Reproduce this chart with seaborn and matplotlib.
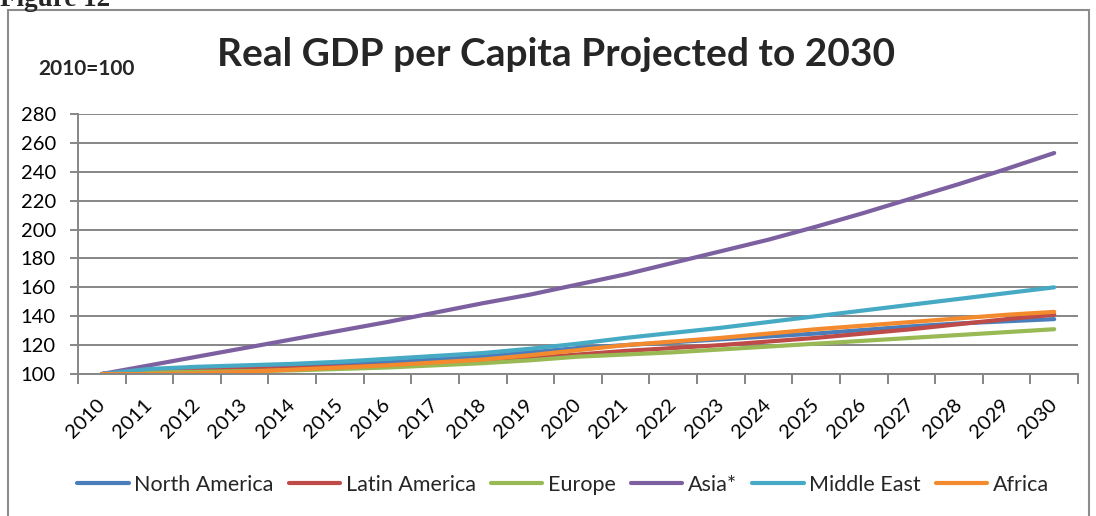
import matplotlib
matplotlib.use("Agg")
import matplotlib.pyplot as plt
from matplotlib.patches import Rectangle
import numpy as np
import pandas as pd
import seaborn as sns

years = [str(y) for y in range(2010, 2031)]
regions = ["North America", "Latin America", "Europe", "Asia*", "Middle East", "Africa"]

north_america = [100, 103, 104, 105, 105.5, 106.5, 108, 110, 112, 115, 118,
                 120, 122, 124, 126, 128, 130.5, 133, 135, 136.5, 138]
latin_america = [100, 102, 103, 103.5, 104, 105, 106, 107.5, 109, 111, 113.5,
                 116, 118, 120, 122.5, 125, 128, 131, 134.5, 138, 141]
europe = [100, 101, 101.5, 102, 102.5, 103.5, 104.5, 106, 107.5, 109.5, 112,
          113.5, 115, 117, 119, 121, 123, 125, 127, 129, 131]
asia = [100, 106, 112, 118, 124, 130, 136, 142.5, 149, 155, 162,
        169, 177, 185, 193, 202, 211.5, 221.5, 231.5, 242, 253]
middle_east = [100, 103.5, 105, 106, 107, 108.5, 110.5, 112.5, 114.5, 117.5, 121,
               125, 128.5, 132, 136, 140, 144, 148, 152, 156, 160]
africa = [100, 100, 100.5, 101.5, 103, 104.5, 106, 108, 110, 113, 116.5,
          120, 122.5, 125, 128, 131, 133.5, 136, 138.5, 141, 143]

series = [north_america, latin_america, europe, asia, middle_east, africa]
colors = ["#4A7EBB", "#BE4B48", "#98B954", "#7D60A0", "#46AAC5", "#F38A2E"]

y_ticks = list(range(100, 281, 20))

df = pd.DataFrame({
    "pos": np.tile(np.arange(len(years)), len(regions)),
    "value": np.concatenate(series),
    "region": np.repeat(regions, len(years)),
})

sns.set_theme(style="white")
plt.rcParams["font.family"] = ["Lato", "DejaVu Sans"]

fig = plt.figure(figsize=(10.96, 5.16), dpi=100)
ax = fig.add_axes([78 / 1096, 1 - 374 / 516, 1000 / 1096, 260 / 516])

sns.lineplot(data=df, x="pos", y="value", hue="region", hue_order=regions,
             palette=colors, linewidth=3.0, ax=ax, legend=False,
             solid_capstyle="round")

grid_c = "#868686"
ax.set_xlim(-0.5, len(years) - 0.5)
ax.set_ylim(100, 280)
ax.set_yticks(y_ticks)
ax.set_yticklabels([str(v) for v in y_ticks], fontsize=14.5, color="black")
for v in y_ticks:
    ax.axhline(v, color=grid_c, lw=1.4, zorder=0)

# tick marks between categories, labels hang from each category centre
ax.set_xticks(np.arange(-0.5, len(years), 1.0))
ax.set_xticklabels([])
ax.set_xticks(np.arange(len(years)), minor=True)
ax.set_xticklabels(years, minor=True, rotation=45, ha="right", va="center",
                   rotation_mode="anchor", fontsize=14.5, color="black")
ax.tick_params(axis="x", which="major", length=7, width=1.4, color=grid_c,
               direction="out", bottom=True)
ax.tick_params(axis="x", which="minor", length=0, pad=20, bottom=True)
ax.tick_params(axis="y", length=6, width=1.4, color=grid_c, direction="out",
               left=True, pad=10)
ax.set_xlabel("")
ax.set_ylabel("")

for side in ["top", "right"]:
    ax.spines[side].set_visible(False)
for side in ["left", "bottom"]:
    ax.spines[side].set_color(grid_c)
    ax.spines[side].set_linewidth(1.4)

# outer chart frame
fig.patches.append(Rectangle((8 / 1096, -0.05), 1081 / 1096, 1.05 - 10 / 516,
                             transform=fig.transFigure, fill=False,
                             edgecolor="#8C8C8C", lw=1.5))

fig.text(0.0, 1 - 6 / 516, "Figure 12", fontsize=19.5, fontweight="bold",
         family="Liberation Serif", ha="left", va="baseline")
fig.text(556 / 1096, 1 - 55 / 516, "Real GDP per Capita Projected to 2030",
         fontsize=28, fontweight="bold", ha="center", va="center")
fig.text(86 / 1096, 1 - 69 / 516, "2010=100", fontsize=15, fontweight="bold",
         ha="center", va="center")

handles = [plt.Line2D([], [], color=c, lw=3) for c in colors]
fig.legend(handles, regions, loc="center", bbox_to_anchor=(563 / 1096, 1 - 485 / 516),
           ncol=6, frameon=False, fontsize=15.5, handlelength=2.4,
           handletextpad=0.25, columnspacing=0.7)

fig.savefig("out.png", dpi=100)
